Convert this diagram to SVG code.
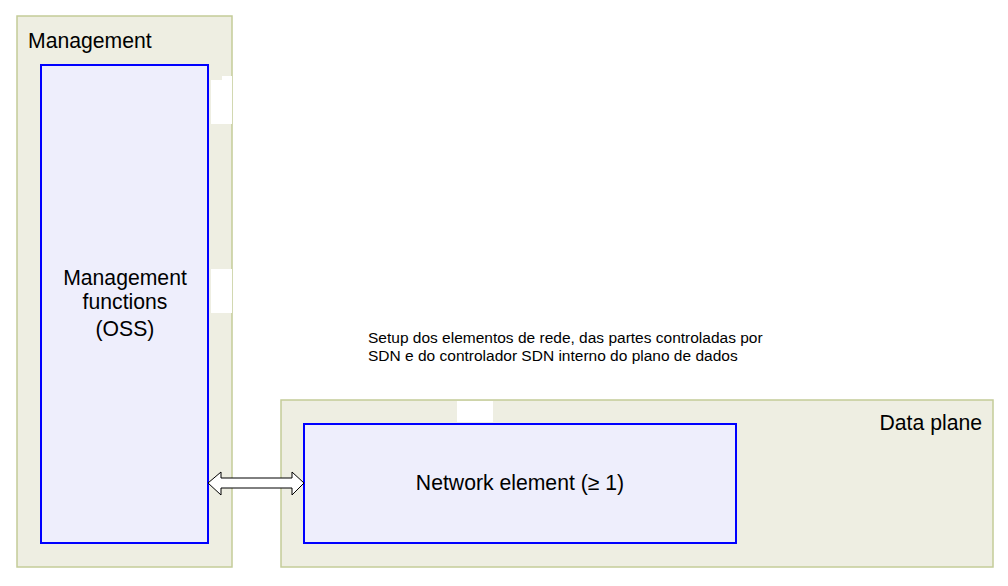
<svg xmlns="http://www.w3.org/2000/svg" width="1008" height="586" viewBox="0 0 1008 586">
<style>
.cont{fill:#eeeee2;stroke:#c4cc98;stroke-width:1.5}
.box{fill:#eeeefc;stroke:#0000ff;stroke-width:2}
.gap{fill:#ffffff}
text{font-family:"Liberation Sans",Arial,sans-serif;fill:#000}
.t20{font-size:21.2px}
.t14{font-size:15.5px}
</style>
<rect width="1008" height="586" fill="#ffffff"/>
<g id="management">
<rect class="cont" x="17" y="16" width="215" height="551"/>
<rect class="gap" x="211" y="80" width="21" height="44"/>
<rect class="gap" x="222" y="76" width="10" height="10"/>
<rect class="gap" x="211" y="269" width="21" height="44"/>
<text class="t20" x="28" y="48">Management</text>
</g>
<g id="data-plane">
<rect class="cont" x="281" y="400" width="712" height="167"/>
<rect class="gap" x="457" y="401" width="36" height="21"/>
<text class="t20" x="982" y="430" text-anchor="end">Data plane</text>
</g>
<g id="oss">
<rect class="box" x="41" y="65" width="167" height="478"/>
<text class="t20" x="125" y="285" text-anchor="middle">Management</text>
<text class="t20" x="125" y="309" text-anchor="middle">functions</text>
<text class="t20" x="125" y="336" text-anchor="middle">(OSS)</text>
</g>
<g id="network-element">
<rect class="box" x="304" y="424" width="432" height="119"/>
<text class="t20" x="520" y="490" text-anchor="middle">Network element (≥ 1)</text>
</g>
<g id="connectors">
<polygon points="208,483 221,472 221,478 292,478 292,472 304,483 292,495 292,488 221,488 221,495" fill="#ffffff" stroke="#000" stroke-width="1"/>
</g>
<g id="label">
<text class="t14" x="368" y="343">Setup dos elementos de rede, das partes controladas por</text>
<text class="t14" x="368" y="361">SDN e do controlador SDN interno do plano de dados</text>
</g>
</svg>
